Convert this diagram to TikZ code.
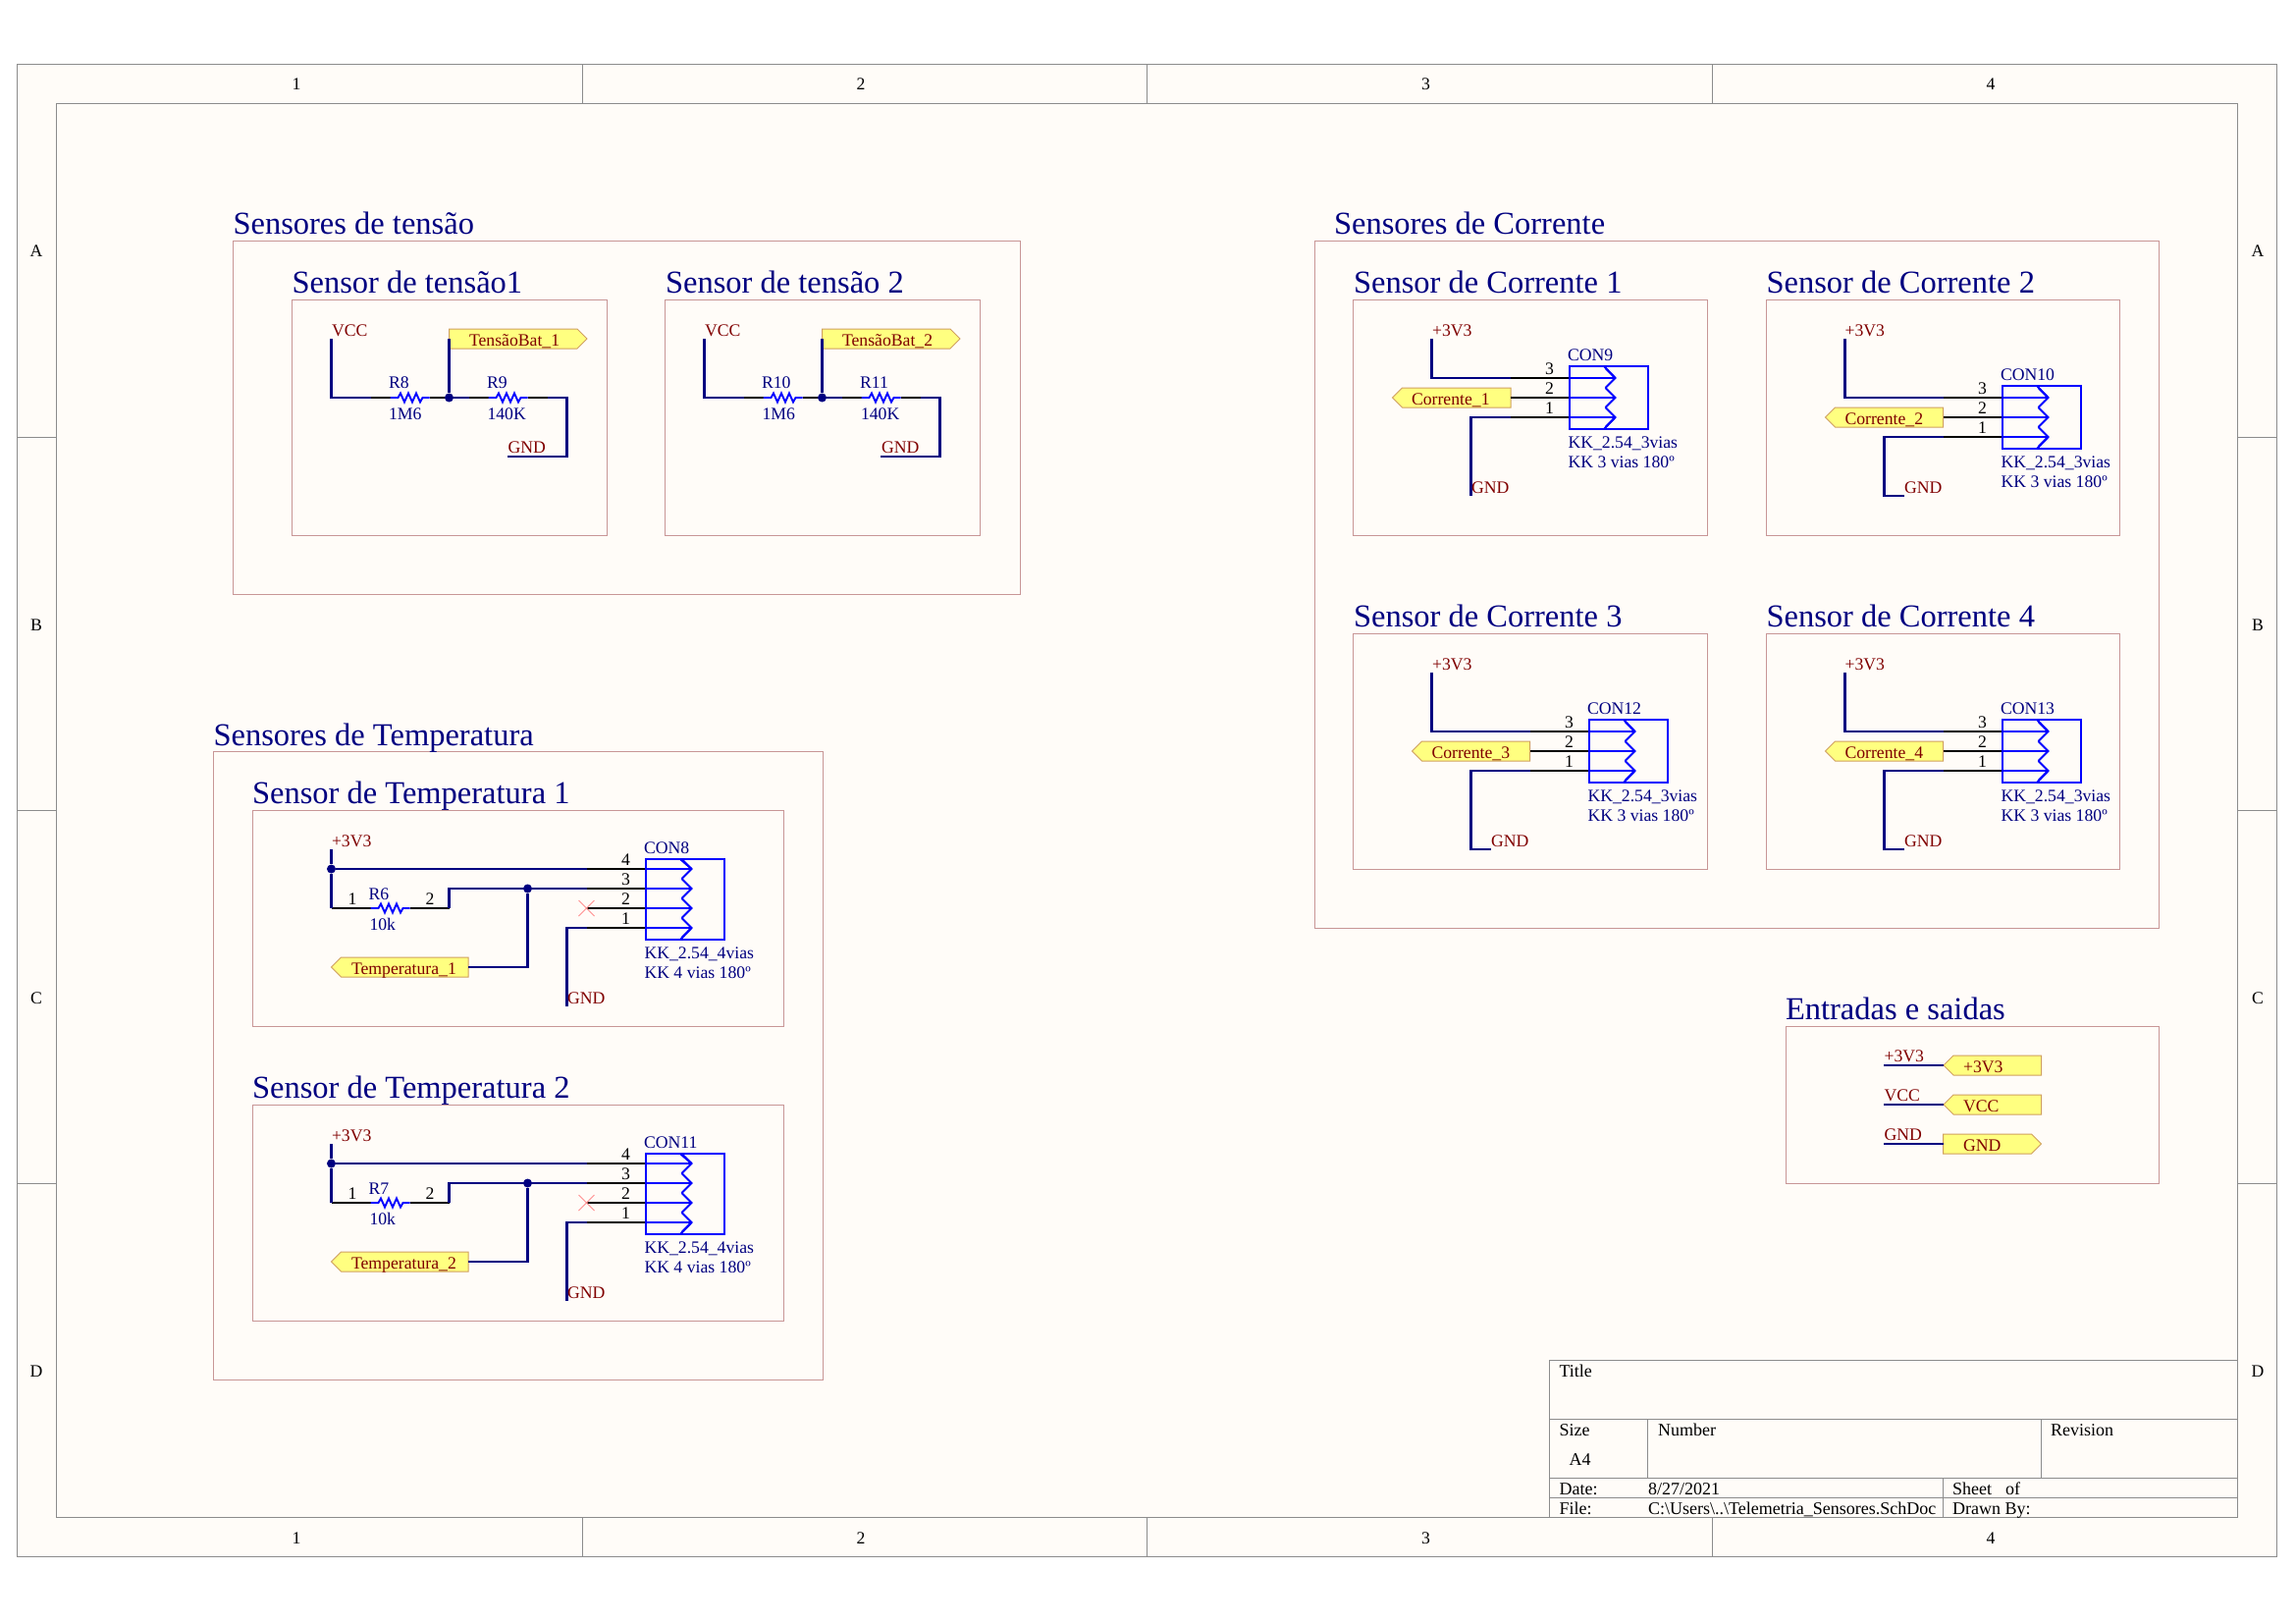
\documentclass[tikz,border=0pt]{standalone}
\usepackage{fontspec}
\setmainfont{Liberation Serif}
\definecolor{sheetbg}{HTML}{FFFCF8}
\definecolor{framec}{HTML}{8C8C8C}
\definecolor{boxc}{HTML}{C89696}
\definecolor{wirec}{HTML}{000080}
\definecolor{compc}{HTML}{0000FF}
\definecolor{netc}{HTML}{800000}
\definecolor{portf}{HTML}{FFFF80}
\definecolor{portd}{HTML}{D0A060}
\definecolor{xmark}{HTML}{FF9090}
\newcount\lblcnt
\newcommand\lbl[4]{\global\advance\lblcnt by 1 \node[#1] (l\the\lblcnt) at (#2,#3) {#4};}
\tikzset{
  small/.style={font=\fontsize{17.7}{20}\selectfont,inner sep=0pt,outer sep=0pt,anchor=base west},
  net/.style={small,text=netc},
  des/.style={small,text=wirec},
  pinno/.style={small,text=black,anchor=base},
  frm/.style={small,font=\fontsize{18}{20}\selectfont,text=black},
  frmc/.style={small,text=black,anchor=base},
  big/.style={font=\fontsize{32.5}{36}\selectfont,inner sep=0pt,outer sep=0pt,anchor=base west,text=wirec},
  wire/.style={draw=wirec,line width=2.4pt,line join=miter},
  pinl/.style={draw=black,line width=2pt},
  comp/.style={draw=compc,line width=2pt,line join=miter},
  junction/.style={circle,fill=wirec,draw=none,minimum size=9pt,inner sep=0pt},
  boxr/.style={draw=boxc,line width=1.1pt},
  frameline/.style={draw=framec,line width=1pt},
  portp/.style={fill=portf,draw=portd,line width=1pt}
}
% left pointing port: name tip right y text textx
\newcommand\portL[6]{%
  \path[portp] (#2,#4) -- (#2+10,#4-10) -- (#3,#4-10) -- (#3,#4+10) -- (#2+10,#4+10) -- cycle;
  \coordinate (#1) at (#3,#4);
  \lbl{net}{#6}{#4+7}{#5}}
\newcommand\portLr[6]{%
  \path[portp] (#2,#4) -- (#2+10,#4-10) -- (#3,#4-10) -- (#3,#4+10) -- (#2+10,#4+10) -- cycle;
  \coordinate (#1) at (#2,#4);
  \lbl{net}{#6}{#4+7}{#5}}
% right pointing port: name left tip y text textx
\newcommand\portR[6]{%
  \path[portp] (#2,#4-10) -- (#3-10,#4-10) -- (#3,#4) -- (#3-10,#4+10) -- (#2,#4+10) -- cycle;
  \coordinate (#1) at (#2,#4);
  \lbl{net}{#6}{#4+7}{#5}}
% resistor: name L y pinlen
\newcommand\res[4]{%
  \draw[pinl] (#2-#4,#3) -- (#2,#3);
  \draw[pinl] (#2+40,#3) -- (#2+40+#4,#3);
  \draw[comp,line width=1.9pt] (#2,#3) -- ++(8,0) -- ++(2.5,-4.5) -- ++(4,9) -- ++(4,-9) -- ++(4,9) -- ++(4,-9) -- ++(4,9) -- ++(2.5,-4.5) -- (#2+40,#3);
  \coordinate (#1-a) at (#2-#4,#3);
  \coordinate (#1-b) at (#2+40+#4,#3);}
% connector: name x0 y0 pins toppad designator line1 line2
\newcommand\conn[8]{%
  \pgfmathsetmacro\cbot{#3+(#4-1)*20+12}
  \pgfmathsetmacro\ctop{#3-#5}
  \pgfmathsetmacro\clast{#3+(#4-1)*20}
  \foreach \i in {1,...,#4}{%
    \pgfmathsetmacro\py{#3+(#4-\i)*20}
    \draw[pinl] (#2-60,\py) -- (#2,\py);
    \draw[comp] (#2,\py) -- (#2+47,\py);
    \draw[comp] (#2+37,\py-10) -- (#2+47,\py) -- (#2+37,\py+10);
    \coordinate (#1-\i) at (#2-60,\py);
    \lbl{pinno}{#2-20}{\py-3.5}{\i}
  }
  \draw[comp] (#2,\ctop) rectangle (#2+80.5,\cbot);
  \draw[comp] (#2+47,#3) -- (#2+35.5,\ctop);
  \draw[comp] (#2+47,\clast) -- (#2+35.5,\cbot);
  \lbl{des}{#2-1.5}{\ctop-6}{#6}
  \lbl{des}{#2-1}{\cbot+19}{#7}
  \lbl{des}{#2-1}{\cbot+39}{#8}}
\begin{document}
\begin{tikzpicture}[x=1pt,y=-1pt]
\useasboundingbox (0,0) rectangle (2339,1653);
\fill[white] (0,0) rectangle (2339,1653);
% sheet frame
\path[fill=sheetbg,frameline] (17.5,65.5) rectangle (2319.5,1585);
\path[frameline] (57.5,105.5) rectangle (2279.5,1545);
\foreach \x in {593,1168.5,1744}{\draw[frameline] (\x,65.5) -- (\x,105.5); \draw[frameline] (\x,1545) -- (\x,1585);}
\foreach \y in {445,825,1205}{\draw[frameline] (17.5,\y) -- (57.5,\y); \draw[frameline] (2279.5,\y) -- (2319.5,\y);}
\lbl{frmc}{302}{92}{1}\lbl{frmc}{877}{92}{2}\lbl{frmc}{1452.5}{92}{3}\lbl{frmc}{2028}{92}{4}
\lbl{frmc}{302}{1572}{1}\lbl{frmc}{877}{1572}{2}\lbl{frmc}{1452.5}{1572}{3}\lbl{frmc}{2028}{1572}{4}
\lbl{frmc}{37}{262}{A}\lbl{frmc}{37}{642}{B}\lbl{frmc}{37}{1022}{C}\lbl{frmc}{37}{1402}{D}
\lbl{frmc}{2300}{262}{A}\lbl{frmc}{2300}{642}{B}\lbl{frmc}{2300}{1022}{C}\lbl{frmc}{2300}{1402}{D}
% title block
\draw[frameline] (1578.5,1545) -- (1578.5,1385) -- (2279.5,1385);
\draw[frameline] (1578.5,1445) -- (2279.5,1445);
\draw[frameline] (1578.5,1505) -- (2279.5,1505);
\draw[frameline] (1578.5,1525) -- (2279.5,1525);
\draw[frameline] (1678.5,1445) -- (1678.5,1505);
\draw[frameline] (2079.5,1445) -- (2079.5,1505);
\draw[frameline] (1979.5,1505) -- (1979.5,1545);
\lbl{frm}{1588.5}{1402}{Title}
\lbl{frm}{1588.5}{1462}{Size}
\lbl{frm}{1598.5}{1492}{A4}
\lbl{frm}{1689}{1462}{Number}
\lbl{frm}{2089}{1462}{Revision}
\lbl{frm}{1588.5}{1522}{Date:}
\lbl{frm}{1679}{1522}{8/27/2021}
\lbl{frm}{1989}{1522}{Sheet}
\lbl{frm}{2043}{1522}{of}
\lbl{frm}{1588.5}{1542}{File:}
\lbl{frm}{1679}{1542}{C:\textbackslash Users\textbackslash ..\textbackslash Telemetria\_Sensores.SchDoc}
\lbl{frm}{1989}{1542}{Drawn By:}
% group boxes
\draw[boxr] (237.5,245.5) rectangle (1039.5,605.5);
\lbl{big}{237.5}{239}{Sensores de tensão}
\draw[boxr] (297.5,305.5) rectangle (618.5,545.5);
\lbl{big}{297.5}{298.5}{Sensor de tensão1}
\draw[boxr] (677.5,305.5) rectangle (998.5,545.5);
\lbl{big}{678}{298.5}{Sensor de tensão 2}
\draw[boxr] (1339.5,245.5) rectangle (2199.5,945.5);
\lbl{big}{1359}{239}{Sensores de Corrente}
\draw[boxr] (1378.5,305.5) rectangle (1739.5,545.5);
\lbl{big}{1379}{298.5}{Sensor de Corrente 1}
\draw[boxr] (1799.5,305.5) rectangle (2159.5,545.5);
\lbl{big}{1799.5}{298.5}{Sensor de Corrente 2}
\draw[boxr] (1378.5,645.5) rectangle (1739.5,885.5);
\lbl{big}{1379}{638.5}{Sensor de Corrente 3}
\draw[boxr] (1799.5,645.5) rectangle (2159.5,885.5);
\lbl{big}{1799.5}{638.5}{Sensor de Corrente 4}
\draw[boxr] (217.5,765.5) rectangle (838.5,1405.5);
\lbl{big}{217.5}{759}{Sensores de Temperatura}
\draw[boxr] (257.5,825.5) rectangle (798.5,1045.5);
\lbl{big}{257}{818.5}{Sensor de Temperatura 1}
\draw[boxr] (257.5,1125.5) rectangle (798.5,1345.5);
\lbl{big}{257}{1118.5}{Sensor de Temperatura 2}
\draw[boxr] (1819.5,1045.5) rectangle (2199.5,1205.5);
\lbl{big}{1819}{1038.5}{Entradas e saidas}
% ---------- Sensor de tensao 1
\portR{tb1}{457.5}{598}{345}{TensãoBat\_1}{478}
\res{r8}{397.5}{405}{20}
\res{r9}{497.5}{405}{20}
\coordinate (vcc1) at (337.5,345);
\coordinate (gnd1) at (517,465);
\coordinate (gnd1c) at (577.5,465);
\node[junction] (j1) at (457.5,405) {};
\draw[wire] (vcc1) |- (r8-a);
\draw[wire] (r8-b) -- (r9-a);
\draw[wire] (tb1) -- (j1);
\draw[wire] (r9-b) -| (gnd1c) -- (gnd1);
\lbl{net}{338}{342}{VCC}
\lbl{net}{517.5}{461.5}{GND}
\lbl{des}{396}{395}{R8}
\lbl{des}{396}{427}{1M6}
\lbl{des}{496}{395}{R9}
\lbl{des}{496.5}{427}{140K}
% ---------- Sensor de tensao 2
\portR{tb2}{837.5}{978}{345}{TensãoBat\_2}{858}
\res{r10}{777.5}{405}{20}
\res{r11}{877.5}{405}{20}
\coordinate (vcc2) at (717.5,345);
\coordinate (gnd2) at (897,465);
\coordinate (gnd2c) at (957.5,465);
\node[junction] (j2) at (837.5,405) {};
\draw[wire] (vcc2) |- (r10-a);
\draw[wire] (r10-b) -- (r11-a);
\draw[wire] (tb2) -- (j2);
\draw[wire] (r11-b) -| (gnd2c) -- (gnd2);
\lbl{net}{718}{342}{VCC}
\lbl{net}{898}{461.5}{GND}
\lbl{des}{776}{395}{R10}
\lbl{des}{776.5}{427}{1M6}
\lbl{des}{876}{395}{R11}
\lbl{des}{877}{427}{140K}
% ---------- Corrente 1
\portL{pc1}{1418.5}{1539}{405}{Corrente\_1}{1438}
\conn{c9}{1598.5}{385}{3}{12}{CON9}{KK\_2.54\_3vias}{KK 3 vias 180º}
\coordinate (v3a) at (1458.5,345);
\coordinate (g3a) at (1498.5,505);
\draw[wire] (v3a) |- (1539,385) coordinate (c9w3);
\draw[pinl] (c9w3) -- (c9-3);
\draw[pinl] (pc1) -- (c9-2);
\draw[wire] (g3a) |- (1539,425) coordinate (c9w1);
\draw[pinl] (c9w1) -- (c9-1);
\lbl{net}{1459}{342}{+3V3}
\lbl{net}{1499}{502}{GND}
% ---------- Corrente 2
\portL{pc2}{1859.5}{1979.5}{425}{Corrente\_2}{1879.5}
\conn{c10}{2039.5}{405}{3}{12}{CON10}{KK\_2.54\_3vias}{KK 3 vias 180º}
\coordinate (v3b) at (1879.5,345);
\coordinate (g3b) at (1940,505);
\coordinate (g3bc) at (1919.5,505);
\draw[wire] (v3b) |- (1979.5,405) coordinate (c10w3);
\draw[pinl] (c10w3) -- (c10-3);
\draw[pinl] (pc2) -- (c10-2);
\draw[wire] (g3b) -- (g3bc) |- (1979.5,445) coordinate (c10w1);
\draw[pinl] (c10w1) -- (c10-1);
\lbl{net}{1879.5}{342}{+3V3}
\lbl{net}{1940}{502}{GND}
% ---------- Corrente 3
\portL{pc3}{1438.5}{1558.5}{765}{Corrente\_3}{1458.5}
\conn{c12}{1618.5}{745}{3}{12}{CON12}{KK\_2.54\_3vias}{KK 3 vias 180º}
\coordinate (v3c) at (1458.5,685);
\coordinate (g3c) at (1519,865);
\coordinate (g3cc) at (1498.5,865);
\draw[wire] (v3c) |- (1558.5,745) coordinate (c12w3);
\draw[pinl] (c12w3) -- (c12-3);
\draw[pinl] (pc3) -- (c12-2);
\draw[wire] (g3c) -- (g3cc) |- (1558.5,785) coordinate (c12w1);
\draw[pinl] (c12w1) -- (c12-1);
\lbl{net}{1459}{682}{+3V3}
\lbl{net}{1519}{862}{GND}
% ---------- Corrente 4
\portL{pc4}{1859.5}{1979.5}{765}{Corrente\_4}{1879.5}
\conn{c13}{2039.5}{745}{3}{12}{CON13}{KK\_2.54\_3vias}{KK 3 vias 180º}
\coordinate (v3d) at (1879.5,685);
\coordinate (g3d) at (1940,865);
\coordinate (g3dc) at (1919.5,865);
\draw[wire] (v3d) |- (1979.5,745) coordinate (c13w3);
\draw[pinl] (c13w3) -- (c13-3);
\draw[pinl] (pc4) -- (c13-2);
\draw[wire] (g3d) -- (g3dc) |- (1979.5,785) coordinate (c13w1);
\draw[pinl] (c13w1) -- (c13-1);
\lbl{net}{1879.5}{682}{+3V3}
\lbl{net}{1940}{862}{GND}
% ---------- Temperatura 1
\portL{pt1}{337.5}{477}{985}{Temperatura\_1}{358}
\conn{c8}{657.5}{885}{4}{10}{CON8}{KK\_2.54\_4vias}{KK 4 vias 180º}
\res{r6}{377.5}{925}{40}
\coordinate (v3t1) at (337.5,865);
\coordinate (g3t1) at (577.5,1025);
\node[junction] (jt1a) at (337.5,885) {};
\node[junction] (jt1b) at (537.5,905) {};
\draw[wire] (v3t1) -- (jt1a);
\draw[wire] (jt1a) -- (597.5,885) coordinate (c8w4);
\draw[pinl] (c8w4) -- (c8-4);
\draw[wire] (jt1a) -- (337.5,925);
\draw[pinl] (337.5,925) -- (r6-a);
\draw[wire] (r6-b) |- (597.5,905) coordinate (c8w3);
\draw[pinl] (c8w3) -- (c8-3);
\draw[wire] (jt1b) |- (pt1);
\draw[wire] (g3t1) |- (597.5,945) coordinate (c8w1);
\draw[pinl] (c8w1) -- (c8-1);
\draw[xmark,line width=1pt] (589.5,917) -- (605.5,933) (589.5,933) -- (605.5,917);
\lbl{net}{338}{862}{+3V3}
\lbl{net}{578}{1022}{GND}
\lbl{des}{375.5}{916}{R6}
\lbl{des}{376.5}{947}{10k}
\lbl{pinno}{359}{921.5}{1}
\lbl{pinno}{438}{921.5}{2}
% ---------- Temperatura 2
\portL{pt2}{337.5}{477}{1285}{Temperatura\_2}{358}
\conn{c11}{657.5}{1185}{4}{10}{CON11}{KK\_2.54\_4vias}{KK 4 vias 180º}
\res{r7}{377.5}{1225}{40}
\coordinate (v3t2) at (337.5,1165);
\coordinate (g3t2) at (577.5,1325);
\node[junction] (jt2a) at (337.5,1185) {};
\node[junction] (jt2b) at (537.5,1205) {};
\draw[wire] (v3t2) -- (jt2a);
\draw[wire] (jt2a) -- (597.5,1185) coordinate (c11w4);
\draw[pinl] (c11w4) -- (c11-4);
\draw[wire] (jt2a) -- (337.5,1225);
\draw[pinl] (337.5,1225) -- (r7-a);
\draw[wire] (r7-b) |- (597.5,1205) coordinate (c11w3);
\draw[pinl] (c11w3) -- (c11-3);
\draw[wire] (jt2b) |- (pt2);
\draw[wire] (g3t2) |- (597.5,1245) coordinate (c11w1);
\draw[pinl] (c11w1) -- (c11-1);
\draw[xmark,line width=1pt] (589.5,1217) -- (605.5,1233) (589.5,1233) -- (605.5,1217);
\lbl{net}{338}{1162}{+3V3}
\lbl{net}{578}{1322}{GND}
\lbl{des}{375.5}{1216}{R7}
\lbl{des}{376.5}{1247}{10k}
\lbl{pinno}{359}{1221.5}{1}
\lbl{pinno}{438}{1221.5}{2}
% ---------- Entradas e saidas
\portLr{pe1}{1980}{2079.5}{1085}{+3V3}{2000}
\portLr{pe2}{1980}{2079.5}{1125}{VCC}{2000}
\portR{pe3}{1979.5}{2079.5}{1165}{GND}{2000}
\coordinate (ne1) at (1919,1085);
\coordinate (ne2) at (1919,1125);
\coordinate (ne3) at (1919,1165);
\draw[wire] (ne1) -- (pe1);
\draw[wire] (ne2) -- (pe2);
\draw[wire] (ne3) -- (pe3);
\lbl{net}{1919.5}{1081}{+3V3}
\lbl{net}{1919.5}{1121}{VCC}
\lbl{net}{1919.5}{1161}{GND}
\end{tikzpicture}
\end{document}
